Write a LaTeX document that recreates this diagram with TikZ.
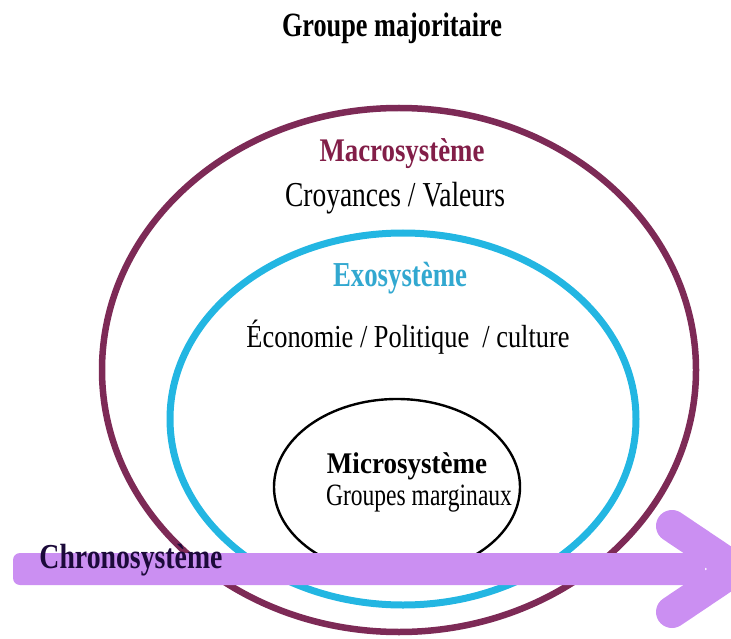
\documentclass[tikz,border=0pt]{standalone}
\usepackage{fontspec}
\setmainfont{Liberation Serif}
\usepackage{graphicx}
\definecolor{macroring}{RGB}{125,42,86}
\definecolor{exoring}{RGB}{35,182,226}
\definecolor{arrowc}{RGB}{203,143,242}
\definecolor{macrotxt}{RGB}{130,30,72}
\definecolor{exotxt}{RGB}{50,168,208}
\definecolor{chronotxt}{RGB}{28,10,58}
\newcommand\fitw[2]{\resizebox{#1}{\height}{#2}}
\begin{document}
\begin{tikzpicture}[x=1pt,y=-1pt,
  lbl/.style={inner sep=0pt, anchor=base, font=\fontsize{35}{40}\selectfont}]
\useasboundingbox (0,0) rectangle (731,639);
\clip (0,0) rectangle (731,639);
% rings
\draw[macroring, line width=6.5pt] (399,370) ellipse [x radius=297, y radius=262];
\draw[exoring, line width=7pt] (403,419) ellipse [x radius=233, y radius=186];
\draw[black, line width=2.4pt] (397,487) ellipse [x radius=123, y radius=88];
% texts
\node[lbl, font=\bfseries\fontsize{34}{40}\selectfont] (grp) at (392,37) {\fitw{220pt}{Groupe majoritaire}};
\node[lbl, text=macrotxt, font=\bfseries\fontsize{33}{40}\selectfont] (macro) at (402,162) {\fitw{165pt}{Macrosystème}};
\node[lbl] (croy) at (395,207) {\fitw{220pt}{Croyances / Valeurs}};
\node[lbl, text=exotxt, font=\bfseries\fontsize{35}{40}\selectfont] (exo) at (400,287) {\fitw{134pt}{Exosystème}};
\node[lbl, font=\fontsize{32}{38}\selectfont] (eco) at (408,347) {\fitw{323pt}{Économie / Politique \ / culture}};
\node[lbl, font=\bfseries\fontsize{30}{36}\selectfont] (micro) at (407,473) {\fitw{160pt}{Microsystème}};
\node[lbl, font=\fontsize{31}{36}\selectfont] (marg) at (419,505) {\fitw{186pt}{Groupes marginaux}};
% arrow
\coordinate (aL) at (13,553);
\coordinate (aR) at (705,585);
\coordinate (bTop) at (672,526);
\coordinate (tip) at (736,569);
\coordinate (bBot) at (672,612);
\fill[arrowc, rounded corners=7pt] (aL) rectangle (aR);
\draw[arrowc, line width=32pt, line cap=round, line join=round] (bTop) -- (tip) -- (bBot);
\node[lbl, text=chronotxt, font=\bfseries\fontsize{35}{40}\selectfont] (chrono) at (131,568) {\fitw{183pt}{Chronosystème}};
\end{tikzpicture}
\end{document}
